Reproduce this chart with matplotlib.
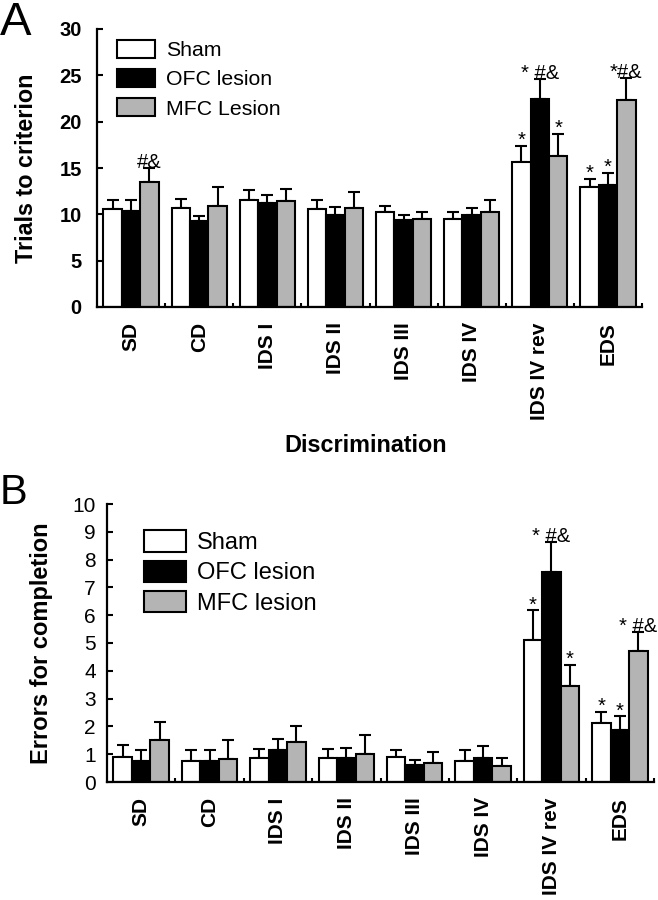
import matplotlib
matplotlib.use('Agg')
import matplotlib.pyplot as plt
import numpy as np
from matplotlib.patches import Patch

plt.rcParams['font.family'] = ['Liberation Sans', 'DejaVu Sans']

# data
stages = ['SD', 'CD', 'IDS I', 'IDS II', 'IDS III', 'IDS IV', 'IDS IV rev', 'EDS']

# panel A: trials to criterion (mean, SEM)
trials_sham = [10.6, 10.7, 11.5, 10.6, 10.2, 9.5, 15.6, 13.0]
trials_sham_err = [0.9, 1.0, 1.1, 1.0, 0.7, 0.8, 1.8, 0.8]
trials_ofc = [10.4, 9.3, 11.2, 9.9, 9.4, 9.9, 22.5, 13.2]
trials_ofc_err = [1.1, 0.5, 0.9, 0.9, 0.5, 0.8, 2.1, 1.3]
trials_mfc = [13.5, 10.9, 11.4, 10.7, 9.5, 10.3, 16.3, 22.3]
trials_mfc_err = [1.5, 2.1, 1.3, 1.7, 0.7, 1.3, 2.4, 2.4]

# panel B: errors for completion (mean, SEM)
errors_sham = [0.90, 0.74, 0.88, 0.88, 0.89, 0.76, 5.12, 2.12]
errors_sham_err = [0.42, 0.40, 0.32, 0.32, 0.25, 0.38, 1.05, 0.40]
errors_ofc = [0.74, 0.74, 1.16, 0.86, 0.60, 0.88, 7.55, 1.88]
errors_ofc_err = [0.40, 0.40, 0.37, 0.37, 0.18, 0.40, 1.08, 0.48]
errors_mfc = [1.50, 0.84, 1.44, 1.02, 0.68, 0.59, 3.44, 4.71]
errors_mfc_err = [0.66, 0.66, 0.56, 0.68, 0.41, 0.29, 0.76, 0.69]

# significance marks: (stage, group, label)
marks_a = [(0, 2, '#&'), (6, 0, '*'), (6, 1, '* #&'), (6, 2, '*'),
           (7, 0, '*'), (7, 1, '*'), (7, 2, '*#&')]
marks_b = [(6, 0, '*'), (6, 1, '* #&'), (6, 2, '*'),
           (7, 0, '*'), (7, 1, '*'), (7, 2, '* #&')]

colors = ['white', 'black', '#b4b4b4']
width = 0.27


def draw(ax, means, errs, marks, ymax, step, legend_names, ytick_kw, ypad, leg_kw):
    x = np.arange(len(stages)) + 0.5
    for k in range(3):
        xs = x + (k - 1) * width
        ax.bar(xs, means[k], width, color=colors[k], edgecolor='black',
               linewidth=1.5, zorder=2)
        ax.errorbar(xs, means[k], yerr=[np.zeros(len(stages)), errs[k]], fmt='none',
                    ecolor='black', elinewidth=1.5, capsize=4.5, capthick=1.5, zorder=1)
    for g, k, lab in marks:
        top = means[k][g] + errs[k][g]
        ax.text(x[g] + (k - 1) * width, top, lab,
                ha='center', va='baseline', fontsize=14.5)
    ax.set_xlim(0, len(stages))
    ax.set_ylim(0, ymax)
    ax.set_yticks(np.arange(0, ymax + 0.01, step))
    ax.set_xticks(x)
    ax.set_xticklabels(stages, rotation=90, fontsize=15, fontweight='bold')
    ax.set_xticks(np.arange(1, len(stages) + 1), minor=True)
    ax.tick_params(axis='x', which='major', length=0, pad=11)
    ax.tick_params(axis='x', which='minor', direction='in', length=3, width=1.5)
    ax.tick_params(axis='y', direction='in', length=4, width=1.5, pad=ypad)
    for t in ax.get_yticklabels():
        t.set(**ytick_kw)
    for s in ['top', 'right']:
        ax.spines[s].set_visible(False)
    for s in ['left', 'bottom']:
        ax.spines[s].set_linewidth(1.6)
    handles = [Patch(facecolor=c, edgecolor='black', linewidth=1.5) for c in colors]
    ax.legend(handles, legend_names, loc='upper left', frameon=False,
              borderpad=0, borderaxespad=0, **leg_kw)


fig = plt.figure(figsize=(6.58, 9), dpi=100)
ax1 = fig.add_axes([97 / 658, 1 - 307 / 900, 545 / 658, 278 / 900])
ax2 = fig.add_axes([107 / 658, 1 - 782 / 900, 547 / 658, 278 / 900])

draw(ax1, [trials_sham, trials_ofc, trials_mfc],
     [trials_sham_err, trials_ofc_err, trials_mfc_err], marks_a, 30, 5,
     ['Sham', 'OFC lesion', 'MFC Lesion'],
     dict(fontsize=14.5, fontweight='bold'), 11,
     dict(bbox_to_anchor=(0.037, 0.962), fontsize=15.3, handlelength=1.8,
          handleheight=0.94, handletextpad=0.52, labelspacing=0.42))
ax1.set_ylabel('Trials to criterion', fontsize=16.8, fontweight='bold')
ax1.yaxis.set_label_coords(-0.108, 0.5)

draw(ax2, [errors_sham, errors_ofc, errors_mfc],
     [errors_sham_err, errors_ofc_err, errors_mfc_err], marks_b, 10, 1,
     ['Sham', 'OFC lesion', 'MFC lesion'],
     dict(fontsize=15), 8,
     dict(bbox_to_anchor=(0.068, 0.906), fontsize=17, handlelength=1.75,
          handleheight=1.02, handletextpad=0.5, labelspacing=0.28))
ax2.set_ylabel('Errors for completion', fontsize=17, fontweight='bold')
ax2.yaxis.set_label_coords(-0.099, 0.5)

fig.text(366 / 658, 1 - 445 / 900, 'Discrimination', ha='center', va='center',
         fontsize=16.8, fontweight='bold')
fig.text(0.0, 1 - 1 / 900, 'A', ha='left', va='top', fontsize=34)
fig.text(0.0, 1 - 473 / 900, 'B', ha='left', va='top', fontsize=30)

fig.savefig('out.png', dpi=100)
